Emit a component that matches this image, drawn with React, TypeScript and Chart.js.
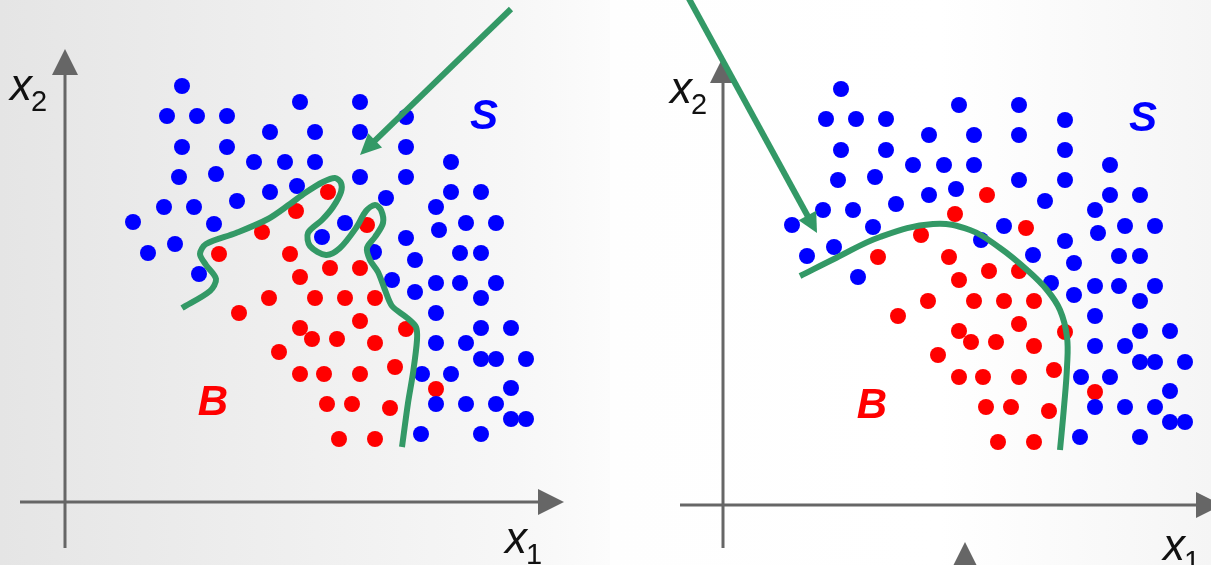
import React, { useEffect, useRef } from "react";
import { Chart, registerables } from "chart.js";

Chart.register(...registerables);

type Pt = [number, number];

// Events in the (x1, x2) feature plane: signal class S
const signalS: Pt[] = [
  [2.34, 8.32], [2.04, 7.72], [2.64, 7.72], [3.24, 7.72], [4.7, 8.0], [5.9, 8.0],
  [6.82, 7.7], [2.34, 7.1], [3.24, 7.1], [4.1, 7.4], [5.0, 7.4], [5.9, 7.4],
  [6.82, 7.1], [2.28, 6.5], [3.02, 6.56], [3.78, 6.8], [4.4, 6.8], [5.0, 6.8],
  [7.72, 6.8], [5.9, 6.5], [6.82, 6.5], [1.98, 5.9], [2.58, 5.9], [3.44, 6.02],
  [4.1, 6.2], [4.64, 6.32], [6.42, 6.08], [7.72, 6.2], [8.32, 6.2], [1.36, 5.6],
  [2.98, 5.56], [7.42, 5.9], [5.6, 5.58], [8.02, 5.58], [8.62, 5.58], [7.48, 5.44],
  [2.2, 5.16], [1.66, 4.98], [5.14, 5.3], [6.82, 5.28], [6.18, 5.0], [7.0, 4.84],
  [7.9, 4.98], [8.32, 4.98], [2.68, 4.56], [6.54, 4.44], [7.0, 4.2], [7.42, 4.38],
  [7.9, 4.38], [8.62, 4.38], [8.32, 4.08], [7.42, 3.78], [8.32, 3.48], [8.92, 3.48],
  [7.42, 3.18], [8.02, 3.18], [8.32, 2.86], [8.62, 2.86], [9.22, 2.86], [7.14, 2.56],
  [7.72, 2.56], [8.92, 2.28], [7.42, 1.96], [8.02, 1.96], [8.62, 1.96], [8.92, 1.66],
  [9.22, 1.66], [7.12, 1.36], [8.32, 1.36],
];

// Background class B
const backgroundB: Pt[] = [
  [3.94, 5.4], [4.62, 5.82], [5.26, 6.2], [3.08, 4.96], [4.5, 4.96], [6.04, 5.54],
  [5.3, 4.68], [4.7, 4.5], [4.08, 4.08], [5.0, 4.08], [3.48, 3.78], [4.7, 3.48],
  [4.94, 3.26], [4.28, 3.0], [4.7, 2.56], [5.18, 2.56], [5.24, 1.96], [5.9, 4.68],
  [5.6, 4.08], [6.2, 4.08], [5.9, 3.62], [6.82, 3.46], [5.44, 3.26], [6.2, 3.18],
  [6.6, 2.7], [5.9, 2.56], [7.42, 2.26], [5.74, 1.96], [6.5, 1.88], [5.48, 1.26],
  [6.2, 1.26],
];

// Over-trained decision boundary (left panel)
const wigglyBoundary: Pt[] = [
  [2.34, 3.88], [2.9, 4.22], [3.02, 4.46], [2.82, 4.74], [2.7, 4.96], [2.82, 5.16],
  [3.42, 5.38], [4.06, 5.66], [4.5, 5.96], [4.8, 6.18], [5.16, 6.4], [5.4, 6.48],
  [5.52, 6.38], [5.52, 6.2], [5.36, 5.9], [5.14, 5.64], [4.86, 5.38], [4.9, 5.12],
  [5.22, 4.94], [5.5, 5.08], [5.82, 5.48], [6.02, 5.82], [6.2, 5.94], [6.32, 5.84],
  [6.36, 5.58], [6.2, 5.3], [6.04, 5.08], [6.1, 4.84], [6.26, 4.6], [6.4, 4.24],
  [6.54, 3.92], [6.82, 3.7], [7.02, 3.5], [7.04, 3.24], [6.96, 2.58], [6.86, 1.98],
  [6.74, 1.1],
];

// Smooth decision boundary (right panel)
const smoothBoundary: Pt[] = [
  [1.52, 4.58], [2.24, 4.94], [3.12, 5.36], [4.18, 5.62], [4.92, 5.5], [5.52, 5.14],
  [6.06, 4.7], [6.46, 4.3], [6.72, 3.9], [6.86, 3.36], [6.86, 2.76], [6.8, 1.96],
  [6.72, 1.1],
];

const BLUE = "#0000ff";
const RED = "#ff0000";
const GREEN = "#339966";
const AXIS = "#666666";
const FONT = "'Liberation Sans', Arial, sans-serif";

type Arrow = { from: Pt; to: Pt; color: string; width: number; head: number; half: number };

interface Panel {
  left: number;
  width: number;
  xRange: Pt;
  yRange: Pt;
  boundary: Pt[];
  tension: number;
  arrows: Arrow[];
  x1Label: Pt;
  x2Label: Pt;
  sLabel: Pt;
  bLabel: Pt;
  bg: [number, string][];
}

const axisArrows = (yAxisX: number, yTop: number, yBottom: number, xLeft: number, xTip: number): Arrow[] => [
  { from: [yAxisX, yBottom], to: [yAxisX, yTop], color: AXIS, width: 3, head: 26, half: 13 },
  { from: [xLeft, 0], to: [xTip, 0], color: AXIS, width: 3, head: 26, half: 13 },
];

const panels: Panel[] = [
  {
    left: 0,
    width: 610,
    xRange: [-1.3, 10.9],
    yRange: [-1.26, 10.04],
    boundary: wigglyBoundary,
    tension: 0.3,
    arrows: [
      ...axisArrows(0, 9.06, -0.92, -0.9, 9.98),
      { from: [8.92, 9.86], to: [5.9, 6.94], color: GREEN, width: 6, head: 21, half: 10 },
    ],
    x1Label: [8.8, -1.02],
    x2Label: [-1.1, 8.04],
    sLabel: [8.38, 7.7],
    bLabel: [2.96, 1.98],
    bg: [[0, "#e5e5e5"], [0.85, "#f7f7f7"], [1, "#fcfcfc"]],
  },
  {
    left: 610,
    width: 601,
    xRange: [-2.28, 9.74],
    yRange: [-1.2, 10.1],
    boundary: smoothBoundary,
    tension: 0.4,
    arrows: [
      ...axisArrows(-0.02, 8.96, -0.86, -0.88, 9.96),
      { from: [4.82, -1.9], to: [4.82, -0.74], color: AXIS, width: 3, head: 26, half: 13 },
      { from: [-0.72, 10.16], to: [1.86, 5.44], color: GREEN, width: 6, head: 20, half: 10 },
    ],
    x1Label: [8.78, -1.1],
    x2Label: [-1.08, 8.04],
    sLabel: [8.38, 7.72],
    bLabel: [2.96, 1.98],
    bg: [[0, "#fefefe"], [0.55, "#ffffff"], [1, "#f5f5f5"]],
  },
];

const toXY = (pts: Pt[]) => pts.map(([x, y]) => ({ x, y }));

function decorPlugin(p: Panel) {
  return {
    id: "panelDecor",
    beforeDraw(chart: any) {
      const { ctx, width, height } = chart;
      const g = ctx.createLinearGradient(0, 0, width, 0);
      p.bg.forEach(([s, c]) => g.addColorStop(s, c));
      ctx.save();
      ctx.fillStyle = g;
      ctx.fillRect(0, 0, width, height);
      ctx.restore();
    },
    afterDatasetsDraw(chart: any) {
      const { ctx } = chart;
      const sx = chart.scales.x;
      const sy = chart.scales.y;
      const px = (v: Pt) => [sx.getPixelForValue(v[0]), sy.getPixelForValue(v[1])];

      ctx.save();
      for (const a of p.arrows) {
        const [x0, y0] = px(a.from);
        const [x1, y1] = px(a.to);
        const len = Math.hypot(x1 - x0, y1 - y0);
        const ux = (x1 - x0) / len;
        const uy = (y1 - y0) / len;
        const bx = x1 - ux * a.head;
        const by = y1 - uy * a.head;
        ctx.strokeStyle = a.color;
        ctx.lineWidth = a.width;
        ctx.lineCap = "butt";
        ctx.beginPath();
        ctx.moveTo(x0, y0);
        ctx.lineTo(bx + ux * 2, by + uy * 2);
        ctx.stroke();
        ctx.fillStyle = a.color;
        ctx.beginPath();
        ctx.moveTo(x1, y1);
        ctx.lineTo(bx - uy * a.half, by + ux * a.half);
        ctx.lineTo(bx + uy * a.half, by - ux * a.half);
        ctx.closePath();
        ctx.fill();
      }

      // axis names with subscripts
      ctx.fillStyle = "#111111";
      ctx.textAlign = "left";
      ctx.textBaseline = "alphabetic";
      const axisName = (at: Pt, sub: string) => {
        const [x, y] = px(at);
        ctx.font = `italic 44px ${FONT}`;
        ctx.fillText("x", x, y);
        ctx.font = `29px ${FONT}`;
        ctx.fillText(sub, x + 21, y + 11);
      };
      axisName(p.x1Label, "1");
      axisName(p.x2Label, "2");

      // class names
      ctx.textAlign = "center";
      ctx.textBaseline = "middle";
      ctx.font = `italic bold 42px ${FONT}`;
      let [lx, ly] = px(p.sLabel);
      ctx.fillStyle = BLUE;
      ctx.fillText("S", lx, ly);
      [lx, ly] = px(p.bLabel);
      ctx.fillStyle = RED;
      ctx.fillText("B", lx, ly);
      ctx.restore();
    },
  };
}

function PanelChart({ p }: { p: Panel }) {
  const ref = useRef<HTMLCanvasElement | null>(null);
  useEffect(() => {
    if (!ref.current) return;
    const chart = new Chart(ref.current, {
      type: "scatter",
      data: {
        datasets: [
          {
            type: "line",
            label: "boundary",
            data: toXY(p.boundary),
            borderColor: GREEN,
            borderWidth: 6,
            borderCapStyle: "butt",
            tension: p.tension,
            pointRadius: 0,
            fill: false,
            order: 0,
          } as any,
          {
            label: "S",
            data: toXY(signalS),
            backgroundColor: BLUE,
            borderWidth: 0,
            pointRadius: 8,
            order: 1,
          },
          {
            label: "B",
            data: toXY(backgroundB),
            backgroundColor: RED,
            borderWidth: 0,
            pointRadius: 8,
            order: 1,
          },
        ],
      },
      options: {
        animation: false,
        responsive: false,
        events: [],
        layout: { padding: 0, autoPadding: false },
        plugins: { legend: { display: false }, tooltip: { enabled: false } },
        scales: {
          x: { type: "linear", display: false, min: p.xRange[0], max: p.xRange[1] },
          y: { type: "linear", display: false, min: p.yRange[0], max: p.yRange[1] },
        },
      },
      plugins: [decorPlugin(p)],
    });
    return () => chart.destroy();
  }, [p]);
  return (
    <canvas
      ref={ref}
      width={p.width}
      height={565}
      style={{ position: "absolute", left: p.left, top: 0, width: p.width, height: 565, display: "block" }}
    />
  );
}

export default function App() {
  return (
    <div style={{ position: "fixed", left: 0, top: 0, width: 1211, height: 565, overflow: "hidden", background: "#ffffff" }}>
      {panels.map((p, i) => (
        <PanelChart key={i} p={p} />
      ))}
    </div>
  );
}
